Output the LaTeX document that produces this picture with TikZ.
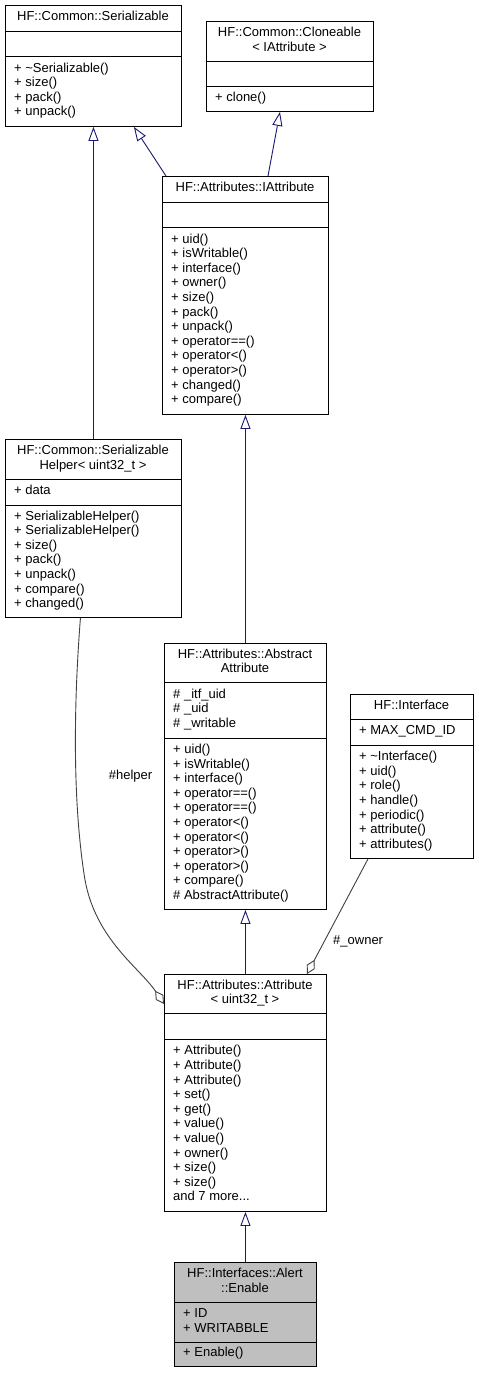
\documentclass[tikz,border=0pt]{standalone}
\usepackage{fontspec}
\setmainfont{Liberation Sans}
\usetikzlibrary{arrows.meta,calc}
\definecolor{edgeblue}{HTML}{191970}
\definecolor{aggr}{HTML}{404040}
\definecolor{rootfill}{HTML}{BFBFBF}
\begin{document}
\begin{tikzpicture}[x=1pt,y=-1pt,
  box/.style={draw=black, line width=0.9pt, inner sep=0pt, anchor=north west, fill=white},
  rootbox/.style={box, fill=rootfill},
  sepline/.style={draw=black, line width=0.9pt},
  txt/.style={font=\fontsize{13}{14.6}\selectfont, inner sep=0pt, align=left, anchor=west},
  ttl/.style={font=\fontsize{13}{14.6}\selectfont, inner sep=0pt, align=center, anchor=center},
  lbl/.style={font=\fontsize{13}{14.6}\selectfont, inner sep=0pt, text=black},
  inh/.style={draw=edgeblue, line width=0.9pt, -{Triangle[open,length=14pt,width=10pt,fill=white]}},
  agg/.style={draw=aggr, line width=0.9pt, -{Diamond[open,length=16pt,width=9pt,fill=white]}}]
\useasboundingbox (0,0) rectangle (479,1373);
\fill[white] (0,0) rectangle (479,1373);

% A Serializable
\node[box, minimum width=176pt, minimum height=121pt] (A) at (5,5) {};
\draw[sepline] (5,31) -- (181,31);
\draw[sepline] (5,56) -- (181,56);
\node[ttl] (At) at (93,18) {\strut HF::Common::Serializable};
\node[txt] (Am) at (14,91) {\strut + \textasciitilde Serializable()\\\strut + size()\\\strut + pack()\\\strut + unpack()};

% B Cloneable
\node[box, minimum width=167pt, minimum height=90pt] (B) at (206,21) {};
\draw[sepline] (206,61) -- (373,61);
\draw[sepline] (206,86) -- (373,86);
\node[ttl] (Bt) at (289.5,41) {\strut HF::Common::Cloneable\\\strut < IAttribute >};
\node[txt] (Bm) at (215,98.5) {\strut + clone()};

% C IAttribute
\node[box, minimum width=166pt, minimum height=238pt] (C) at (162,176) {};
\draw[sepline] (162,202) -- (328,202);
\draw[sepline] (162,227) -- (328,227);
\node[ttl] (Ct) at (245,189) {\strut HF::Attributes::IAttribute};
\node[txt] (Cm) at (171,320.5) {\strut + uid()\\\strut + isWritable()\\\strut + interface()\\\strut + owner()\\\strut + size()\\\strut + pack()\\\strut + unpack()\\\strut + operator==()\\\strut + operator<()\\\strut + operator>()\\\strut + changed()\\\strut + compare()};

% D SerializableHelper
\node[box, minimum width=176pt, minimum height=178pt] (D) at (5,439) {};
\draw[sepline] (5,479) -- (181,479);
\draw[sepline] (5,505) -- (181,505);
\node[ttl] (Dt) at (93,459) {\strut HF::Common::Serializable\\\strut Helper< uint32\_t >};
\node[txt] (Da) at (14,492) {\strut + data};
\node[txt] (Dm) at (14,561) {\strut + SerializableHelper()\\\strut + SerializableHelper()\\\strut + size()\\\strut + pack()\\\strut + unpack()\\\strut + compare()\\\strut + changed()};

% E AbstractAttribute
\node[box, minimum width=162pt, minimum height=266pt] (E) at (164,643) {};
\draw[sepline] (164,682) -- (326,682);
\draw[sepline] (164,738) -- (326,738);
\node[ttl] (Et) at (245,662.5) {\strut HF::Attributes::Abstract\\\strut Attribute};
\node[txt] (Ea) at (173,710) {\strut \# \_itf\_uid\\\strut \# \_uid\\\strut \# \_writable};
\node[txt] (Em) at (173,823.5) {\strut + uid()\\\strut + isWritable()\\\strut + interface()\\\strut + operator==()\\\strut + operator==()\\\strut + operator<()\\\strut + operator<()\\\strut + operator>()\\\strut + operator>()\\\strut + compare()\\\strut \# AbstractAttribute()};

% F Interface
\node[box, minimum width=123pt, minimum height=164pt] (F) at (350,694) {};
\draw[sepline] (350,719) -- (473,719);
\draw[sepline] (350,745) -- (473,745);
\node[ttl] (Ft) at (411.5,706.5) {\strut HF::Interface};
\node[txt] (Fa) at (359,732) {\strut + MAX\_CMD\_ID};
\node[txt] (Fm) at (359,801.5) {\strut + \textasciitilde Interface()\\\strut + uid()\\\strut + role()\\\strut + handle()\\\strut + periodic()\\\strut + attribute()\\\strut + attributes()};

% G Attribute
\node[box, minimum width=162pt, minimum height=237pt] (G) at (164,974) {};
\draw[sepline] (164,1013) -- (326,1013);
\draw[sepline] (164,1039) -- (326,1039);
\node[ttl] (Gt) at (245,993.5) {\strut HF::Attributes::Attribute\\\strut < uint32\_t >};
\node[txt] (Gm) at (173,1125) {\strut + Attribute()\\\strut + Attribute()\\\strut + Attribute()\\\strut + set()\\\strut + get()\\\strut + value()\\\strut + value()\\\strut + owner()\\\strut + size()\\\strut + size()\\\strut and 7 more...};

% H Enable
\node[rootbox, minimum width=142pt, minimum height=104pt] (H) at (174,1262) {};
\draw[sepline] (174,1302) -- (316,1302);
\draw[sepline] (174,1342) -- (316,1342);
\node[ttl] (Ht) at (245,1282) {\strut HF::Interfaces::Alert\\\strut ::Enable};
\node[txt] (Ha) at (183,1322) {\strut + ID\\\strut + WRITABBLE};
\node[txt] (Hm) at (183,1354) {\strut + Enable()};

% inheritance
\draw[inh] (D.north) -- (A.south);
\draw[inh] ($(C.north west)+(4,0)$) -- ($(A.south east)+(-48,0)$);
\draw[inh] ($(C.north west)+(106,0)$) -- ($(B.south)+(-10,0)$);
\draw[inh] (E.north) -- (C.south);
\draw[inh] (G.north) -- (E.south);
\draw[inh] (H.north) -- (G.south);

% aggregation
\draw[agg] ($(D.south)+(-13,0)$) .. controls (74,700) and (72,800) .. (85,880)
   .. controls (96,940) and (140,968) .. ($(G.north west)+(0,30)$);
\node[lbl] (lh) at (130.5,776) {\#helper};
\draw[agg] ($(F.south west)+(18,0)$) -- ($(G.north west)+(143,0)$);
\node[lbl, anchor=west] (lo) at (333,941) {\#\_owner};
\end{tikzpicture}
\end{document}
